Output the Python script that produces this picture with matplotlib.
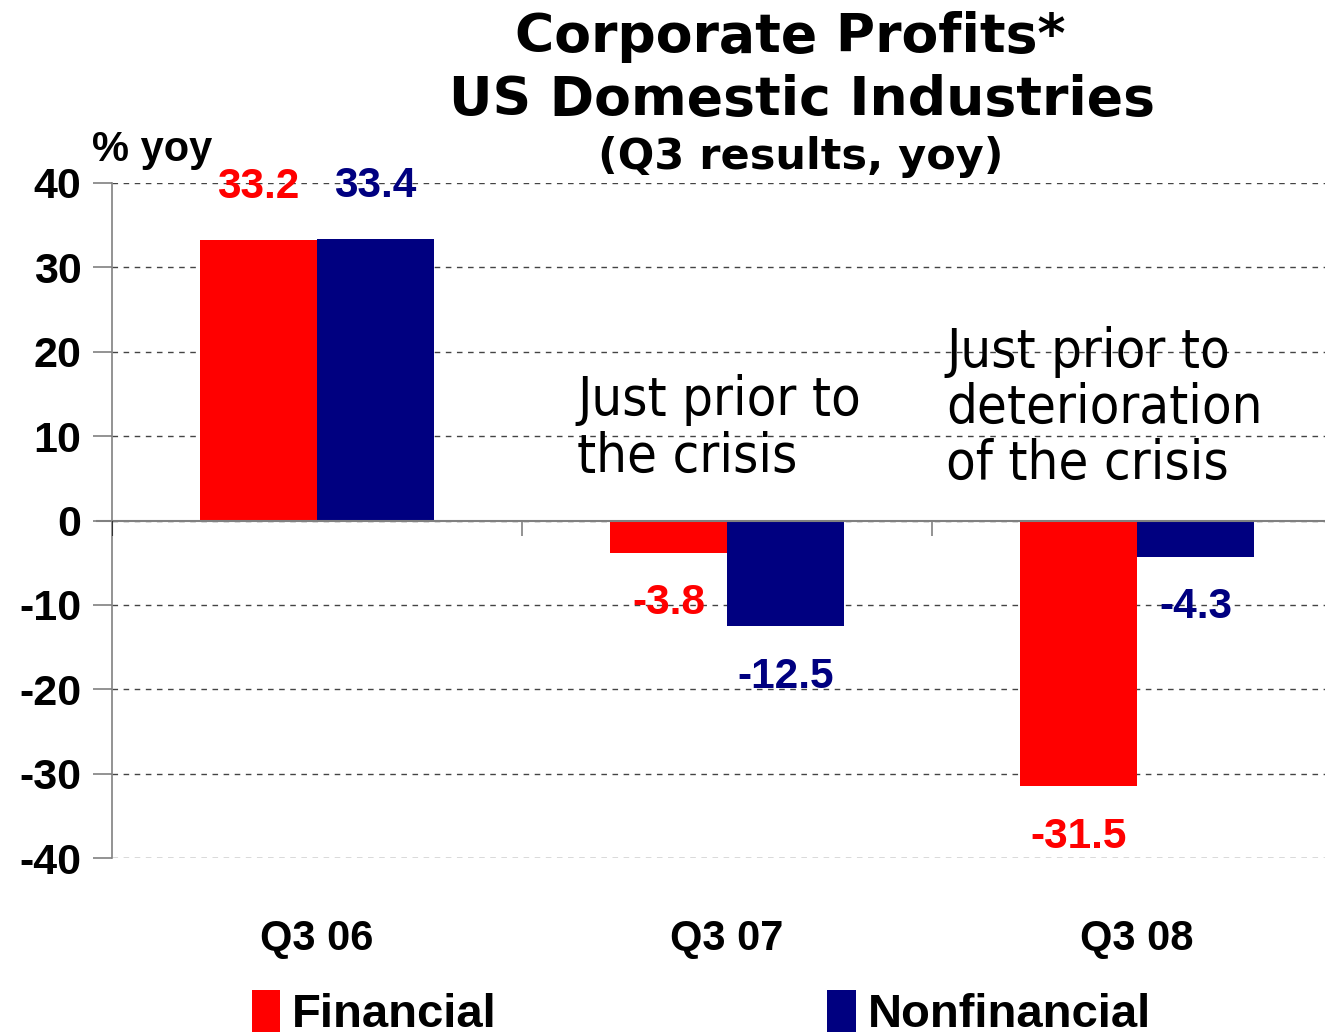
import numpy as np
import matplotlib
matplotlib.use("Agg")
import matplotlib.pyplot as plt

plt.rcParams["axes.unicode_minus"] = False

# Data
categories = ["Q3 06", "Q3 07", "Q3 08"]
financial = [33.2, -3.8, -31.5]
nonfinancial = [33.4, -12.5, -4.3]
series_names = ["Financial", "Nonfinancial"]

RED = "#ff0000"
NAVY = "#000080"
NARROW = ["Liberation Sans Narrow", "Liberation Sans", "DejaVu Sans"]

fig = plt.figure(figsize=(13.25, 10.35), dpi=100)
ax = fig.add_axes([112 / 1325, 1 - 858 / 1035, 1 - 112 / 1325, (858 - 183) / 1035])

x = np.arange(len(categories))
w = 0.285
b1 = ax.bar(x - w / 2, financial, w, color=RED, label=series_names[0], zorder=3)
b2 = ax.bar(x + w / 2, nonfinancial, w, color=NAVY, label=series_names[1], zorder=3)

ax.set_ylim(-40, 40)
ax.set_xlim(-0.5, 2.5 - 17 / 410)
ax.set_yticks(np.arange(-40, 41, 10))
ax.yaxis.grid(True, linestyle=(0, (4, 4)), color="#444444", linewidth=1.0, zorder=0)
for s in ["top", "right", "bottom"]:
    ax.spines[s].set_visible(False)
ax.spines["left"].set_color("#808080")
ax.spines["left"].set_linewidth(1.2)
ax.tick_params(axis="y", length=14, width=1.2, color="#808080", pad=8)
for lab in ax.get_yticklabels():
    lab.set_fontfamily(NARROW)
    lab.set_fontweight("bold")
    lab.set_fontsize(31)

ax.set_xticks(x)
ax.set_xticklabels(categories, fontfamily=NARROW, fontweight="bold", fontsize=30)
ax.tick_params(axis="x", length=0, pad=44)

# zero line and category separators
ax.axhline(0, color="#808080", linewidth=1.5, zorder=4, xmin=-0.012, clip_on=False)
ax.vlines([0.5, 1.5], -1.8, 0, color="#808080", linewidth=1.2, zorder=4)
ax.vlines([-0.5], -1.8, 0, color="#333333", linewidth=1.5, zorder=4)

# value labels
for vals, offs, col in [(financial, -w / 2, RED), (nonfinancial, w / 2, NAVY)]:
    for xi, v in zip(x, vals):
        y = v + 6.3 if v > 0 else v - 6.0
        ax.text(xi + offs, y, f"{v:.1f}", color=col, ha="center", va="center",
                fontfamily=NARROW, fontweight="bold", fontsize=30.5, zorder=5)

ax.text(-0.55, 43.9, "% yoy", fontfamily=NARROW, fontweight="bold", fontsize=30,
        ha="left", va="center", clip_on=False)

note_font = dict(fontfamily="DejaVu Sans", fontstretch="condensed", fontsize=39,
                 ha="left", va="center", linespacing=1.1, zorder=5)
ax.text(0.634, 10.9, "Just prior to\nthe crisis", **note_font)
ax.text(1.534, 13.3, "Just prior to\ndeterioration\nof the crisis", **note_font)

# title
fig.text(790 / 1325, 1 - 37 / 1035, "Corporate Profits*", fontsize=38.6,
         fontweight="bold", ha="center", va="center")
fig.text(802 / 1325, 1 - 100 / 1035, "US Domestic Industries", fontsize=38.6,
         fontweight="bold", ha="center", va="center")
fig.text(801 / 1325, 1 - 157 / 1035, "(Q3 results, yoy)", fontsize=31,
         fontweight="bold", ha="center", va="center")

leg = fig.legend(handles=[b1, b2], loc="upper left",
                 bbox_to_anchor=(252 / 1325, 1 - 990 / 1035), ncol=2, frameon=False,
                 prop={"family": NARROW, "weight": "bold", "size": 34},
                 handlelength=0.6, handleheight=1.0, handletextpad=0.25,
                 columnspacing=7.0, borderpad=0, borderaxespad=0)

fig.savefig("out.png", dpi=100)
